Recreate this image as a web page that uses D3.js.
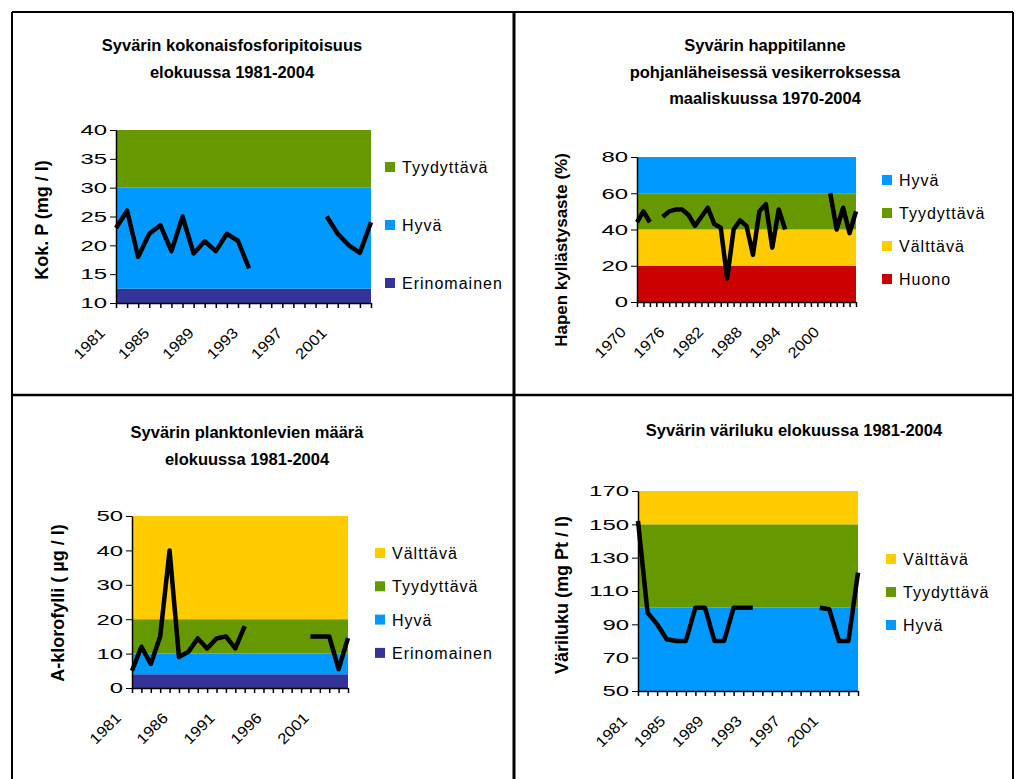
<html>
<head>
<script src="https://cdnjs.cloudflare.com/ajax/libs/d3/7.8.5/d3.min.js"></script>
<style>
    body { margin: 0; background: #fff; }
    svg { font-family: "Liberation Sans", Arial, sans-serif; }
    .title { font-weight: bold; font-size: 16.5px; }
    .ylabel { font-weight: bold; }
    .legendText { font-size: 16px; letter-spacing: 1px; }
</style>
</head>
<body>
<script type="text/javascript">
// years on the category axes
var years81 = [1981, 1982, 1983, 1984, 1985, 1986, 1987, 1988, 1989, 1990, 1991, 1992,
               1993, 1994, 1995, 1996, 1997, 1998, 1999, 2000, 2001, 2002, 2003, 2004];
var years70 = [1970, 1971, 1972, 1973, 1974, 1975, 1976, 1977, 1978, 1979, 1980, 1981,
               1982, 1983, 1984, 1985, 1986, 1987, 1988, 1989, 1990, 1991, 1992, 1993,
               1994, 1995, 1996, 1997, 1998, 1999, 2000, 2001, 2002, 2003, 2004];

// series (null = no measurement)
var phosphorus = [23, 26, 18, 22, 23.5, 19, 25, 18.6, 20.7, 19, 22, 20.8, 16,
                  null, null, null, null, null, null, 25, 22, 20, 18.7, 24];
var oxygen = [44, 50, 44, null, 47, 50, 51, 51, 48, 42, 47, 52, 43, 41, 13, 40, 45, 42,
              26, 50, 54, 30, 51, 40, null, null, null, null, null, null, 60, 40, 52, 38, 50];
var chlorophyll = [5, 12, 7, 15, 40, 9, 10.5, 14.4, 11.5, 14.4, 15, 11.5, 18,
                   null, null, null, null, null, null, 15, 15, 15, 5.5, 14.5];
var colour = [152, 97, 90, 81, 80, 80, 100, 100, 80, 80, 100, 100, 100,
              null, null, null, null, null, null, 100, 99, 80, 80, 121];

// y ticks
var yTicksP = [10, 15, 20, 25, 30, 35, 40];
var yTicksO = [0, 20, 40, 60, 80];
var yTicksC = [0, 10, 20, 30, 40, 50];
var yTicksV = [50, 70, 90, 110, 130, 150, 170];

// x labels shown
var xLabelsP = [1981, 1985, 1989, 1993, 1997, 2001];
var xLabelsO = [1970, 1976, 1982, 1988, 1994, 2000];
var xLabelsC = [1981, 1986, 1991, 1996, 2001];
var xLabelsV = [1981, 1985, 1989, 1993, 1997, 2001];

// quality classes: band edges and names from bottom up
var edgesP = [10, 12.5, 30, 40];
var classesP = ["Erinomainen", "Hyvä", "Tyydyttävä"];
var edgesO = [0, 20, 40, 60, 80];
var classesO = ["Huono", "Välttävä", "Tyydyttävä", "Hyvä"];
var edgesC = [0, 4, 10, 20, 50];
var classesC = ["Erinomainen", "Hyvä", "Tyydyttävä", "Välttävä"];
var edgesV = [50, 100, 150, 170];
var classesV = ["Hyvä", "Tyydyttävä", "Välttävä"];

var classColor = {
    "Erinomainen": "#333399",
    "Hyvä": "#0099FF",
    "Tyydyttävä": "#669900",
    "Välttävä": "#FFCC00",
    "Huono": "#CC0000"
};

var svg = d3.select("body").append("svg")
    .attr("width", 1020)
    .attr("height", 779);

var panels = [
    { years: years81, values: phosphorus, yTicks: yTicksP, xLabels: xLabelsP, edges: edgesP, classes: classesP,
      x0: 116, x1: 371, y0: 130, y1: 303,
      title: ["Syvärin kokonaisfosforipitoisuus", "elokuussa 1981-2004"], titleX: 232, titleY: 51,
      ylabel: "Kok. P (mg / l)", ylabelX: 42, ylabelY: 220, ylabelSize: 18,
      legendX: 385, legendY: 167, legendDy: 58 },
    { years: years70, values: oxygen, yTicks: yTicksO, xLabels: xLabelsO, edges: edgesO, classes: classesO,
      x0: 637, x1: 856, y0: 157, y1: 302,
      title: ["Syvärin happitilanne", "pohjanläheisessä vesikerroksessa", "maaliskuussa 1970-2004"], titleX: 765, titleY: 51,
      ylabel: "Hapen kyllästysaste (%)", ylabelX: 561, ylabelY: 250, ylabelSize: 17,
      legendX: 882, legendY: 180, legendDy: 33 },
    { years: years81, values: chlorophyll, yTicks: yTicksC, xLabels: xLabelsC, edges: edgesC, classes: classesC,
      x0: 132, x1: 348, y0: 516, y1: 688,
      title: ["Syvärin planktonlevien määrä", "elokuussa 1981-2004"], titleX: 247, titleY: 438,
      ylabel: "A-klorofylli ( µg / l)", ylabelX: 58, ylabelY: 603, ylabelSize: 18,
      legendX: 375, legendY: 553, legendDy: 33.3 },
    { years: years81, values: colour, yTicks: yTicksV, xLabels: xLabelsV, edges: edgesV, classes: classesV,
      x0: 638, x1: 858, y0: 491, y1: 691,
      title: ["Syvärin väriluku elokuussa 1981-2004"], titleX: 794, titleY: 436,
      ylabel: "Väriluku (mg Pt / l)", ylabelX: 562, ylabelY: 595, ylabelSize: 18,
      legendX: 886, legendY: 559, legendDy: 33 }
];

panels.forEach(drawPanel);

function drawPanel(p) {
    var g = svg.append("g");

    var x = d3.scalePoint().domain(p.years).range([p.x0, p.x1]);
    var y = d3.scaleLinear().domain([p.edges[0], p.edges[p.edges.length - 1]]).range([p.y1, p.y0]);

    // background bands
    g.selectAll("rect.band")
        .data(p.classes)
        .join("rect")
        .attr("class", "band")
        .attr("x", p.x0)
        .attr("width", p.x1 - p.x0)
        .attr("y", (d, i) => y(p.edges[i + 1]))
        .attr("height", (d, i) => y(p.edges[i]) - y(p.edges[i + 1]))
        .attr("fill", d => classColor[d]);

    // y axis
    var ya = g.append("g")
        .attr("transform", "translate(" + p.x0 + ",0)")
        .call(d3.axisLeft(y).tickValues(p.yTicks).tickSize(6).tickSizeOuter(0));
    ya.select(".domain").attr("stroke", "#000").attr("stroke-width", 1.5);
    ya.selectAll(".tick line").attr("stroke", "#000");
    ya.selectAll("text")
        .attr("fill", "#000")
        .attr("font-size", 15)
        .attr("font-family", "Liberation Sans, Arial, sans-serif")
        .attr("x", -9)
        .attr("textLength", d => String(d).length * 13.3)
        .attr("lengthAdjust", "spacingAndGlyphs");

    // x axis, a tick for every year
    var xa = g.append("g")
        .attr("transform", "translate(0," + p.y1 + ")")
        .call(d3.axisBottom(x).tickValues(p.years).tickSize(5).tickSizeOuter(0).tickFormat(""));
    xa.select(".domain").attr("stroke", "#000").attr("stroke-width", 1.5);
    xa.selectAll(".tick line").attr("stroke", "#000").attr("stroke-width", 1.5);

    g.selectAll("text.xl")
        .data(p.xLabels)
        .join("text")
        .attr("class", "xl")
        .attr("transform", d => "translate(" + (x(d) - 10) + "," + (p.y1 + 31) + ") rotate(-45)")
        .attr("text-anchor", "end")
        .attr("font-size", 15)
        .attr("textLength", 37)
        .attr("lengthAdjust", "spacingAndGlyphs")
        .text(d => d);

    // the series line, with gaps
    var line = d3.line()
        .defined(d => d[1] != null)
        .x(d => x(d[0]))
        .y(d => y(d[1]));

    g.append("path")
        .datum(p.years.map((yr, i) => [yr, p.values[i]]))
        .attr("d", line)
        .attr("fill", "none")
        .attr("stroke", "#000")
        .attr("stroke-width", 4.5)
        .attr("stroke-linejoin", "round");

    // title
    g.selectAll("text.title")
        .data(p.title)
        .join("text")
        .attr("class", "title")
        .attr("x", p.titleX)
        .attr("y", (d, i) => p.titleY + i * 26.5)
        .attr("text-anchor", "middle")
        .text(d => d);

    // y label
    g.append("text")
        .attr("class", "ylabel")
        .attr("transform", "translate(" + p.ylabelX + "," + p.ylabelY + ") rotate(-90)")
        .attr("text-anchor", "middle")
        .attr("dy", "0.35em")
        .attr("font-size", p.ylabelSize)
        .text(p.ylabel);

    // legend, top band first
    var legend = p.classes.slice().reverse();
    var lg = g.selectAll("g.legend")
        .data(legend)
        .join("g")
        .attr("class", "legend")
        .attr("transform", (d, i) => "translate(" + p.legendX + "," + (p.legendY + i * p.legendDy) + ")");
    lg.append("rect")
        .attr("x", 0)
        .attr("y", -5)
        .attr("width", 10)
        .attr("height", 10)
        .attr("fill", d => classColor[d]);
    lg.append("text")
        .attr("class", "legendText")
        .attr("x", 17)
        .attr("y", 6)
        .text(d => d);
}

// frame around the four charts
var frame = [
    [12, 12, 1013, 12, 2],
    [12, 12, 12, 779, 2],
    [1013, 12, 1013, 779, 2],
    [514, 12, 514, 779, 3],
    [12, 395, 1013, 395, 2.5]
];
svg.selectAll("line.frame")
    .data(frame)
    .join("line")
    .attr("class", "frame")
    .attr("x1", d => d[0]).attr("y1", d => d[1])
    .attr("x2", d => d[2]).attr("y2", d => d[3])
    .attr("stroke", "#000")
    .attr("stroke-width", d => d[4]);
</script>
</body>
</html>
